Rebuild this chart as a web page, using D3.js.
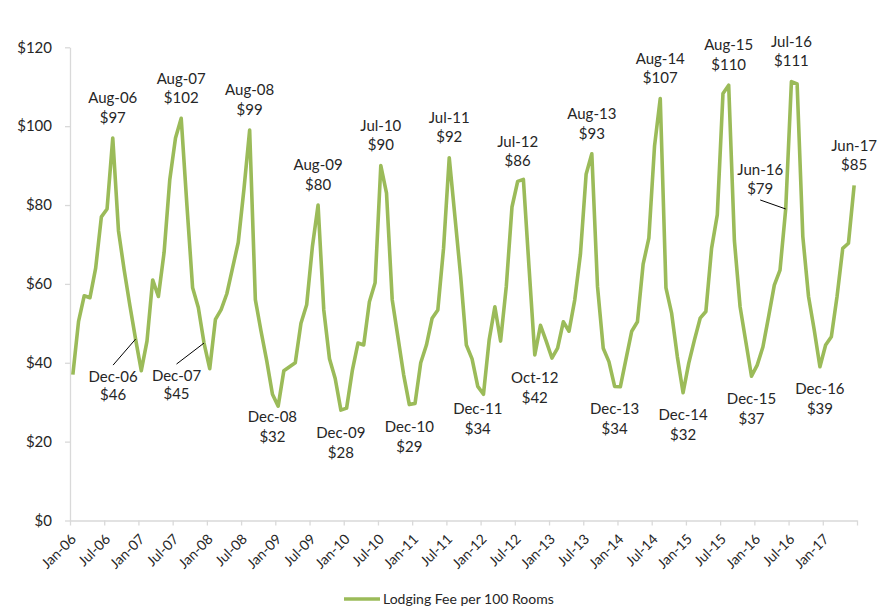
<!DOCTYPE html>
<html>
<head>
<meta charset="utf-8">
<script src="https://cdn.jsdelivr.net/npm/d3@7"></script>
<style>
  html, body { margin: 0; padding: 0; background: #fff; }
  svg { display: block; font-family: Lato, "Liberation Sans", sans-serif; }
</style>
</head>
<body>
<svg id="chart" width="892" height="610"></svg>
<script>
// Monthly lodging fee per 100 rooms, Jan-06 through Jun-17
const lodgingFee = [
  37, 50.5, 57, 56.5, 64, 77, 79, 97, 73.5, 63.5, 54.5, 46,        // 2006
  38, 45.5, 61, 56.8, 68, 86.5, 97, 102, 80, 59, 54, 45,           // 2007
  38.5, 51, 53.5, 57.5, 64, 70.5, 84, 99, 56, 48, 40.5, 32,        // 2008
  29, 38, 39, 40, 50, 54.7, 69.4, 80, 53.4, 41, 36, 28,            // 2009
  28.5, 38, 45, 44.5, 55.5, 60.3, 90, 83, 56, 46.5, 37, 29.4,      // 2010
  29.7, 40, 44.5, 51.3, 53.4, 69, 92, 77, 62, 44.5, 41, 34,        // 2011
  32, 45.8, 54.2, 45.5, 59.3, 79.5, 86, 86.5, 64, 42, 49.5, 45.5,  // 2012
  41.2, 43.7, 50.4, 48, 55.9, 67.5, 87.8, 93, 59.3, 43.7, 40.3, 34, // 2013
  33.9, 41, 48, 50.4, 65, 71.6, 95, 107, 59, 52.5, 41.5, 32.4,     // 2014
  39.9, 45.8, 51.3, 53, 69, 77.5, 108.3, 110.4, 71, 54.2, 45.4, 36.6, // 2015
  39.4, 44, 51.7, 59.7, 63.5, 79, 111.3, 110.7, 72, 56.8, 48.3, 39, // 2016
  44.5, 46.6, 56.8, 69, 70.3, 85                                   // 2017
];

// Month categories (one per value)
const months = d3.timeMonth.range(new Date(2006, 0, 1), new Date(2017, 6, 1))
  .map(d3.timeFormat("%b-%y"));

// Axis labels
const xTickLabels = ["Jan-06","Jul-06","Jan-07","Jul-07","Jan-08","Jul-08","Jan-09","Jul-09",
  "Jan-10","Jul-10","Jan-11","Jul-11","Jan-12","Jul-12","Jan-13","Jul-13","Jan-14","Jul-14",
  "Jan-15","Jul-15","Jan-16","Jul-16","Jan-17"];
const yTicks = [0, 20, 40, 60, 80, 100, 120];

// Annotated months
const peakLabels = ["Aug-06","Aug-07","Aug-08","Aug-09","Jul-10","Jul-11","Jul-12","Aug-13",
  "Aug-14","Aug-15","Jul-16","Jun-17"];
const lowLabels = ["Dec-08","Dec-09","Dec-10","Dec-11","Oct-12","Dec-13","Dec-14","Dec-15","Dec-16"];
const calloutLabels = ["Dec-06","Dec-07","Jun-16"];

const seriesName = "Lodging Fee per 100 Rooms";
const lineColor = "#9BBB59";
const textColor = "#262626";
const axisColor = "#d9d9d9";

const svg = d3.select("#chart");

const x = d3.scaleLinear().domain([0, months.length]).range([70, 857]);
const y = d3.scaleLinear().domain([0, 120]).range([520.5, 47.3]);
const px = i => x(i + 0.5);

// Y axis
const yAxis = svg.append("g")
  .attr("transform", `translate(${x(0)},0)`)
  .call(d3.axisLeft(y).tickValues(yTicks).tickFormat(d => "$" + d).tickSize(5).tickSizeOuter(0).tickPadding(13));
yAxis.select(".domain").attr("stroke", axisColor).attr("stroke-width", 1.3);
yAxis.selectAll(".tick line").attr("stroke", axisColor).attr("stroke-width", 1.3);
yAxis.selectAll(".tick text")
  .attr("fill", textColor).style("font-size", "15px").style("font-family", "Lato, sans-serif");

// X axis
const xTickVals = d3.range(0, months.length + 1, 6);
const xAxis = svg.append("g")
  .attr("transform", `translate(0,${y(0)})`)
  .call(d3.axisBottom(x).tickValues(xTickVals)
    .tickFormat(d => xTickLabels[d / 6] || "").tickSize(5).tickSizeOuter(0));
xAxis.select(".domain").attr("stroke", axisColor).attr("stroke-width", 1.3);
xAxis.selectAll(".tick line").attr("stroke", axisColor).attr("stroke-width", 1.3);
xAxis.selectAll(".tick text")
  .attr("fill", textColor)
  .style("font-size", "14px").style("font-family", "Lato, sans-serif")
  .attr("text-anchor", "end")
  .attr("y", 0).attr("dy", "0.35em")
  .attr("transform", "translate(3,16) rotate(-45)");

// Series line
const line = d3.line()
  .x((d, i) => px(i))
  .y(d => y(d));

svg.append("path")
  .datum(lodgingFee)
  .attr("fill", "none")
  .attr("stroke", lineColor)
  .attr("stroke-width", 3.6)
  .attr("stroke-linejoin", "round")
  .attr("d", line);

// Data labels
const labels = svg.append("g")
  .attr("fill", textColor)
  .style("font-size", "15px")
  .attr("text-anchor", "middle");

function addLabel(name, cx, cyName, cyValue) {
  const v = lodgingFee[months.indexOf(name)];
  labels.append("text").attr("x", cx).attr("y", cyName).attr("dy", "0.35em").text(name);
  labels.append("text").attr("x", cx).attr("y", cyValue).attr("dy", "0.35em").text("$" + Math.round(v));
}

peakLabels.forEach(name => {
  const i = months.indexOf(name);
  addLabel(name, px(i), y(lodgingFee[i]) - 40, y(lodgingFee[i]) - 20.5);
});
lowLabels.forEach(name => {
  const i = months.indexOf(name);
  addLabel(name, px(i), y(lodgingFee[i]) + 22.5, y(lodgingFee[i]) + 42.5);
});

// Labels placed beside their points, joined by a leader line
const calloutOffset = {
  "Dec-06": { dx: -22.5, dyName: 37.5, dyValue: 56, lineDy: 26 },
  "Dec-07": { dx: -27.5, dyName: 32.5, dyValue: 51, lineDy: 21 },
  "Jun-16": { dx: -25.5, dyName: -39.5, dyValue: -20, lineDy: -9 }
};
calloutLabels.forEach(name => {
  const i = months.indexOf(name);
  const o = calloutOffset[name];
  const cx = px(i), cy = y(lodgingFee[i]);
  svg.append("line")
    .attr("x1", cx + o.dx).attr("y1", cy + o.lineDy)
    .attr("x2", cx).attr("y2", cy)
    .attr("stroke", "#000").attr("stroke-width", 1);
  addLabel(name, cx + o.dx, cy + o.dyName, cy + o.dyValue);
});

// Legend
const legend = svg.append("g").attr("transform", "translate(344,599)");
legend.append("line")
  .attr("x1", 0).attr("x2", 36).attr("y1", 0).attr("y2", 0)
  .attr("stroke", lineColor).attr("stroke-width", 3.6);
legend.append("text")
  .attr("x", 39).attr("y", 0).attr("dy", "0.35em")
  .attr("fill", textColor).style("font-size", "14px")
  .text(seriesName);
</script>
</body>
</html>
